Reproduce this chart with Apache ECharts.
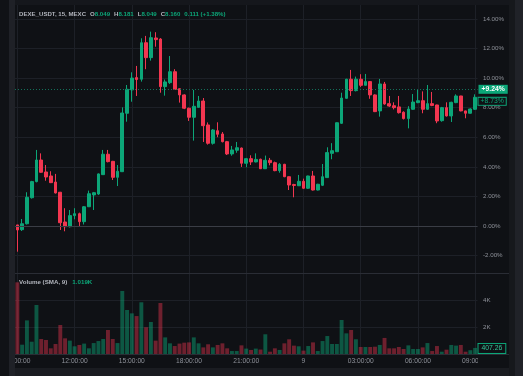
<!DOCTYPE html>
<html>
<head>
<meta charset="utf-8">
<title>DEXE_USDT 15m</title>
<script src="https://cdn.jsdelivr.net/npm/echarts@6/dist/echarts.min.js"></script>
<style>
  html, body { margin: 0; padding: 0; background: #0f1115; }
  #chart { width: 523px; height: 376px; }
</style>
</head>
<body>
<div id="chart"></div>
<script>
// percent change, one 15 min bar each, 09:00 -> 09:00 next day
var opens = [0.07, -0.25, 0.15, 1.91, 3.0, 4.46, 3.65, 3.38, 2.97, 2.28,
  0.27, -0.05, 0.7, 0.83, 0.29, 1.3, 2.1, 2.16, 3.47, 4.85,
  4.37, 3.29, 3.67, 7.62, 9.2, 10.03, 9.92, 12.39, 11.38, 12.71,
  12.64, 9.42, 9.69, 10.43, 9.28, 8.86, 7.96, 7.35, 8.02, 8.45,
  6.83, 5.59, 6.44, 6.22, 5.7, 4.87, 5.12, 5.27, 4.24, 4.55,
  4.33, 4.51, 3.87, 4.44, 4.28, 3.74, 4.17, 3.33, 2.8, 2.72,
  3.02, 2.55, 3.38, 2.43, 2.75, 3.27, 4.91, 5.02, 6.94, 8.63,
  9.92, 9.15, 9.92, 9.51, 9.76, 8.86, 7.78, 9.6, 8.27, 8.13,
  8.05, 7.69, 7.26, 7.89, 8.34, 8.47, 7.89, 8.27, 8.18, 7.12,
  8.0, 7.44, 8.34, 8.79, 7.78, 7.62, 7.89];
var closes = [-0.27, 0.15, 1.94, 3.0, 4.46, 3.63, 3.31, 2.93, 2.23, 0.22,
  -0.05, 0.7, 0.83, 0.29, 1.3, 2.18, 2.25, 3.52, 4.85, 4.35,
  3.29, 3.7, 7.64, 9.24, 10.0, 9.9, 12.39, 11.38, 12.73, 12.6,
  9.42, 9.74, 10.43, 9.24, 8.86, 7.96, 7.35, 8.09, 8.45, 6.78,
  5.59, 6.49, 6.2, 5.7, 4.87, 5.14, 5.29, 4.24, 4.55, 4.33,
  4.5, 3.87, 4.44, 4.28, 3.74, 4.17, 3.33, 2.77, 2.74, 3.02,
  2.55, 3.38, 2.43, 2.82, 3.33, 4.96, 5.09, 6.98, 8.65, 9.92,
  9.15, 9.92, 9.51, 9.76, 8.86, 7.73, 9.6, 8.25, 8.11, 8.0,
  7.66, 7.26, 7.91, 8.38, 8.47, 7.89, 8.27, 8.15, 7.1, 8.0,
  7.44, 8.36, 8.79, 7.78, 7.62, 7.91, 8.7];
var lows = [-1.74, -0.34, 0.1, 1.85, 2.95, 3.6, 3.06, 2.9, 2.2, -0.27,
  -0.36, -0.1, 0.45, 0.0, 0.1, 1.28, 1.08, 2.1, 3.45, 4.3,
  3.11, 2.7, 3.67, 7.05, 8.4, 8.79, 9.76, 10.6, 11.18, 12.12,
  9.01, 8.81, 9.6, 9.2, 8.34, 7.9, 7.1, 5.77, 8.0, 5.68,
  5.5, 5.5, 6.0, 5.65, 4.8, 4.75, 4.95, 3.99, 3.97, 4.12,
  4.3, 3.85, 3.85, 4.1, 3.7, 3.6, 3.3, 2.43, 1.94, 2.7,
  2.5, 2.5, 2.4, 2.4, 2.7, 3.25, 4.51, 5.0, 6.9, 8.6,
  8.79, 9.1, 9.4, 9.5, 8.6, 7.7, 7.39, 8.2, 8.05, 7.88,
  7.6, 7.2, 6.6, 7.85, 8.3, 7.62, 7.85, 8.1, 6.95, 7.05,
  7.4, 7.03, 8.3, 7.75, 7.28, 7.6, 7.85];
var highs = [0.07, 0.47, 2.28, 3.05, 5.14, 4.91, 4.12, 3.7, 3.52, 2.3,
  1.2, 1.08, 1.2, 0.9, 1.35, 2.39, 2.3, 3.55, 5.14, 5.14,
  4.4, 4.12, 8.02, 9.53, 10.39, 10.82, 12.69, 12.85, 13.14, 13.1,
  12.7, 9.9, 11.49, 10.6, 9.3, 8.9, 8.0, 9.2, 8.79, 8.65,
  7.0, 6.55, 7.01, 6.35, 5.75, 5.41, 5.68, 5.3, 4.6, 4.78,
  4.91, 4.55, 4.76, 4.6, 4.35, 4.25, 4.2, 3.35, 2.85, 3.45,
  3.2, 3.4, 3.72, 2.85, 4.19, 5.32, 5.6, 7.0, 9.01, 9.95,
  10.55, 10.1, 10.26, 10.28, 9.8, 8.9, 9.94, 9.74, 8.79, 8.36,
  8.79, 7.75, 8.1, 8.92, 9.24, 9.1, 9.53, 9.06, 8.2, 8.05,
  8.36, 8.4, 8.9, 8.8, 7.8, 7.95, 8.9];
// volume in thousands
var volumeK = [5.31, 0.69, 2.49, 0.91, 3.63, 1.11, 1.04, 0.42, 0.74, 2.15,
  1.16, 0.99, 0.57, 0.67, 0.77, 0.42, 0.81, 0.96, 1.11, 1.78,
  1.11, 0.81, 4.67, 3.26, 3.01, 2.81, 3.83, 1.98, 2.37, 0.99,
  3.78, 1.23, 0.79, 0.59, 0.77, 0.84, 0.86, 1.23, 0.79, 0.49,
  0.72, 0.49, 0.67, 0.79, 0.42, 0.22, 0.22, 0.64, 0.40, 0.30,
  0.40, 0.33, 1.46, 0.17, 0.42, 0.30, 0.79, 1.09, 0.62, 0.57,
  0.25, 0.59, 0.86, 0.22, 0.96, 1.33, 0.74, 0.74, 2.52, 1.53,
  1.78, 1.09, 0.52, 0.52, 0.52, 0.54, 0.67, 1.19, 0.42, 0.42,
  0.52, 0.37, 0.64, 0.37, 0.37, 0.49, 0.81, 0.22, 0.59, 0.17,
  0.32, 0.67, 0.62, 0.67, 0.17, 0.28, 0.45];

var priceTicks = [-2, 0, 2, 4, 6, 8, 10, 12, 14];
var timeTicks = ['09:00:00', '12:00:00', '15:00:00', '18:00:00', '21:00:00', '9', '03:00:00', '06:00:00', '09:00:00'];
var lastPct = 9.24;
var closePct = 8.73;
var lastVolume = 407.26;
var header = 'DEXE_USDT, 15, MEXC';
var ohlcKeys = ['O', 'H', 'L', 'C'];
var ohlcText = ['8.049', '8.181', '8.049', '8.160'];
var changeText = '0.111 (+1.38%)';
var volMaText = '1.019K';

var UP = '#0ca678', DOWN = '#f23650';
var GRID = '#1d2027', TXT = '#8e9199', FONT = '"Liberation Sans", Arial, sans-serif';
var NONE = 'rgba(0,0,0,0)';

var categories = [];
for (var i = 0; i < opens.length; i++) {
  var m = (9 * 60 + 15 * i) % (24 * 60);
  var hh = Math.floor(m / 60), mm = m % 60;
  categories.push((hh < 10 ? '0' : '') + hh + ':' + (mm < 10 ? '0' : '') + mm + ':00');
}

var candles = opens.map(function (o, i) { return [o, closes[i], lows[i], highs[i]]; });
var volumes = volumeK.map(function (v, i) {
  var up = closes[i] >= opens[i];
  return { value: v, itemStyle: { color: up ? 'rgba(12,166,120,0.48)' : 'rgba(242,54,80,0.42)' } };
});

var headerText = '{n|' + header + '}';
ohlcKeys.forEach(function (k, i) { headerText += '{k|' + k + '}{v|' + ohlcText[i] + '}'; });
headerText += '{c|' + changeText + '}';

var chart = echarts.init(document.getElementById('chart'));

chart.setOption({
  backgroundColor: '#0f1115',
  animation: false,
  title: [{
    left: 19, top: 11, padding: 0,
    text: headerText,
    textStyle: {
      rich: {
        n: { color: '#b2b5bd', fontSize: 6.1, fontFamily: FONT },
        k: { color: '#b2b5bd', fontSize: 6.1, fontFamily: FONT, padding: [0, 0, 0, 4] },
        v: { color: UP, fontSize: 6.1, fontFamily: FONT },
        c: { color: UP, fontSize: 6.1, fontFamily: FONT, padding: [0, 0, 0, 4] }
      }
    }
  }, {
    left: 19, top: 279, padding: 0,
    text: '{n|Volume (SMA, 9)}{c|' + volMaText + '}',
    textStyle: {
      rich: {
        n: { color: '#b2b5bd', fontSize: 6.2, fontFamily: FONT },
        c: { color: UP, fontSize: 6.2, fontFamily: FONT, padding: [0, 0, 0, 5] }
      }
    }
  }],
  grid: [
    { left: 15, right: 45.5, top: 5, height: 268 },
    { left: 15, right: 45.5, top: 273, height: 81 }
  ],
  xAxis: [{
    type: 'category', gridIndex: 0, data: categories, boundaryGap: true,
    axisLine: { show: false }, axisTick: { show: false }, axisLabel: { show: false },
    splitLine: { show: true, interval: 11, alignWithLabel: true, lineStyle: { color: GRID } }
  }, {
    type: 'category', gridIndex: 1, data: categories, boundaryGap: true,
    axisLine: { show: false }, axisTick: { show: false },
    axisLabel: {
      interval: 11, color: TXT, fontSize: 6.7, fontFamily: FONT, margin: 4,
      formatter: function (v, idx) { return timeTicks[Math.round(idx / 12)]; }
    },
    splitLine: { show: true, interval: 11, alignWithLabel: true, lineStyle: { color: GRID } }
  }],
  yAxis: [{
    type: 'value', gridIndex: 0, position: 'right', min: -3.18, max: 14.94, scale: true,
    axisLine: { show: false },
    axisTick: { show: false, customValues: priceTicks },
    axisLabel: {
      customValues: priceTicks, color: TXT, fontSize: 6.2, fontFamily: FONT, margin: 5.5,
      formatter: function (v) { return v.toFixed(2) + '%'; }
    },
    splitLine: { show: true, lineStyle: { color: GRID } }
  }, {
    type: 'value', gridIndex: 1, position: 'right', min: 0, max: 6, interval: 2,
    axisLine: { show: false }, axisTick: { show: false },
    axisLabel: {
      color: TXT, fontSize: 6.2, fontFamily: FONT, margin: 5.5,
      formatter: function (v) { return (v === 0 || v === 6) ? '' : v + 'K'; }
    },
    splitLine: { show: true, lineStyle: { color: GRID } }
  }],
  series: [{
    type: 'candlestick',
    xAxisIndex: 0, yAxisIndex: 0,
    data: candles,
    barWidth: 3.2,
    itemStyle: { color: UP, color0: DOWN, borderColor: UP, borderColor0: DOWN, borderWidth: 1 },
    markLine: {
      symbol: 'none', silent: true, animation: false,
      data: [
        { yAxis: 0, lineStyle: { color: '#3a3d45', type: 'solid', width: 1 }, label: { show: false } },
        {
          yAxis: lastPct, lineStyle: { color: '#13705a', type: [1, 2], width: 1 },
          label: {
            show: true, position: 'end', distance: 1, formatter: '+' + lastPct.toFixed(2) + '%',
            backgroundColor: UP, color: '#ffffff', padding: [1, 3], fontSize: 6.8, fontWeight: 'bold', fontFamily: FONT
          }
        },
        {
          yAxis: closePct, lineStyle: { color: NONE, width: 0 },
          label: {
            show: true, position: 'end', distance: 1, offset: [0, 4.5], formatter: '+' + closePct.toFixed(2) + '%',
            backgroundColor: '#0f1115', borderColor: UP, borderWidth: 1, color: UP,
            padding: [0, 2], fontSize: 6.8, fontFamily: FONT
          }
        }
      ]
    }
  }, {
    type: 'bar',
    xAxisIndex: 1, yAxisIndex: 1,
    data: volumes,
    barCategoryGap: '18%',
    markLine: {
      symbol: 'none', silent: true, animation: false,
      data: [{
        yAxis: lastVolume / 1000, lineStyle: { color: NONE, width: 0 },
        label: {
          show: true, position: 'end', distance: 1, formatter: lastVolume.toFixed(2),
          backgroundColor: '#0f1115', borderColor: UP, borderWidth: 1, color: '#36c79a',
          padding: [1, 3], fontSize: 6.8, fontFamily: FONT
        }
      }]
    }
  }],
  graphic: [
    { type: 'rect', z: 100, shape: { x: 0, y: 0, width: 9, height: 376 }, style: { fill: '#101216' } },
    { type: 'rect', z: 100, shape: { x: 9, y: 0, width: 6, height: 376 }, style: { fill: '#1f2127' } },
    { type: 'rect', z: 100, shape: { x: 15, y: 0, width: 494, height: 5 }, style: { fill: '#15171c' } },
    { type: 'rect', z: 100, shape: { x: 509, y: 0, width: 6, height: 376 }, style: { fill: '#16181c' } },
    { type: 'rect', z: 100, shape: { x: 515, y: 0, width: 8, height: 376 }, style: { fill: '#202228' } },
    { type: 'rect', z: 100, shape: { x: 15, y: 368, width: 494, height: 8 }, style: { fill: '#1a1c21' } },
    { type: 'rect', z: 100, shape: { x: 478, y: 355.5, width: 31, height: 12.5 }, style: { fill: '#0f1115' } },
    { type: 'line', z: 90, shape: { x1: 15, y1: 273.5, x2: 509, y2: 273.5 }, style: { stroke: '#2a2d35', lineWidth: 1 } },
    { type: 'line', z: 90, shape: { x1: 15, y1: 354.5, x2: 509, y2: 354.5 }, style: { stroke: '#2a2d35', lineWidth: 1 } }
  ]
});
</script>
</body>
</html>
